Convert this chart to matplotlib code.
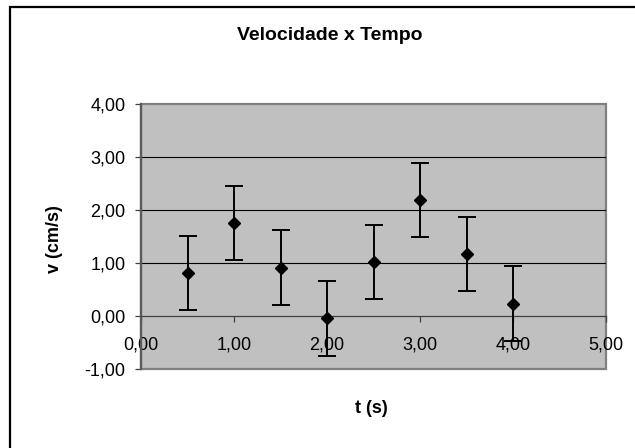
import matplotlib
matplotlib.use('Agg')
import matplotlib.pyplot as plt
from matplotlib.patches import Rectangle
from matplotlib.ticker import FixedLocator, FuncFormatter

plt.rcParams['font.family'] = ['Liberation Sans', 'DejaVu Sans']

# dados medidos
tempo = [0.5, 1.0, 1.5, 2.0, 2.5, 3.0, 3.5, 4.0]
velocidade = [0.81, 1.76, 0.92, -0.04, 1.03, 2.20, 1.18, 0.24]
erro = [0.70, 0.70, 0.70, 0.70, 0.70, 0.70, 0.70, 0.70]
x_ticks = [0, 1, 2, 3, 4, 5]
y_ticks = [-1, 0, 1, 2, 3, 4]

fig = plt.figure(figsize=(6.35, 4.48), dpi=100)
ax = fig.add_axes([141 / 635, 78.7 / 448, 465 / 635, 265 / 448])
ax.set_facecolor('#c0c0c0')

# moldura externa (só esquerda e topo aparecem)
fig.patches.append(Rectangle((10 / 635, -0.2), 1.5, 1.2 - 7 / 448,
                             transform=fig.transFigure, fill=False,
                             edgecolor='black', linewidth=1.6, clip_on=False))

# linhas de grade horizontais
for y in [1, 2, 3]:
    ax.axhline(y, color='black', linewidth=0.8, zorder=1)

ax.errorbar(tempo, velocidade, yerr=erro, fmt='D', color='black',
            markersize=6.2, ecolor='black', elinewidth=1.4, capsize=6.5,
            capthick=1.4, zorder=3)

ax.set_xlim(0, 5)
ax.set_ylim(-1, 4)

fmt = FuncFormatter(lambda v, p: f'{v:.2f}'.replace('.', ','))
ax.xaxis.set_major_locator(FixedLocator(x_ticks))
ax.yaxis.set_major_locator(FixedLocator(y_ticks))
ax.xaxis.set_major_formatter(fmt)
ax.yaxis.set_major_formatter(fmt)

# eixo x cruzando em zero
ax.spines['bottom'].set_position(('data', 0))
ax.spines['bottom'].set_color('#404040')
ax.spines['bottom'].set_linewidth(0.9)
ax.spines['left'].set_color('#5a5a5a')
ax.spines['left'].set_linewidth(1.6)
for s in ['top', 'right']:
    ax.spines[s].set_visible(False)

# borda da área de plotagem
ax.add_patch(Rectangle((0, 0), 1, 1, transform=ax.transAxes, fill=False,
                       edgecolor='#808080', linewidth=1.6, zorder=0.5,
                       clip_on=False))

ax.tick_params(axis='x', direction='out', length=4, width=0.9, color='#404040',
               pad=10.5, labelsize=13)
ax.tick_params(axis='y', direction='out', length=4.5, width=0.9, color='#404040',
               pad=6.5, labelsize=13)

ax.set_xlabel('t (s)', fontsize=13, fontweight='bold')
ax.set_ylabel('v (cm/s)', fontsize=13, fontweight='bold')
ax.xaxis.set_label_coords(0.495, -0.115)
ax.yaxis.set_label_coords(-0.168, 0.49)

fig.text(330 / 635, 1 - 36 / 448, 'Velocidade x Tempo', ha='center',
         va='center', fontsize=14, fontweight='bold')

fig.savefig('out.png', dpi=100)
